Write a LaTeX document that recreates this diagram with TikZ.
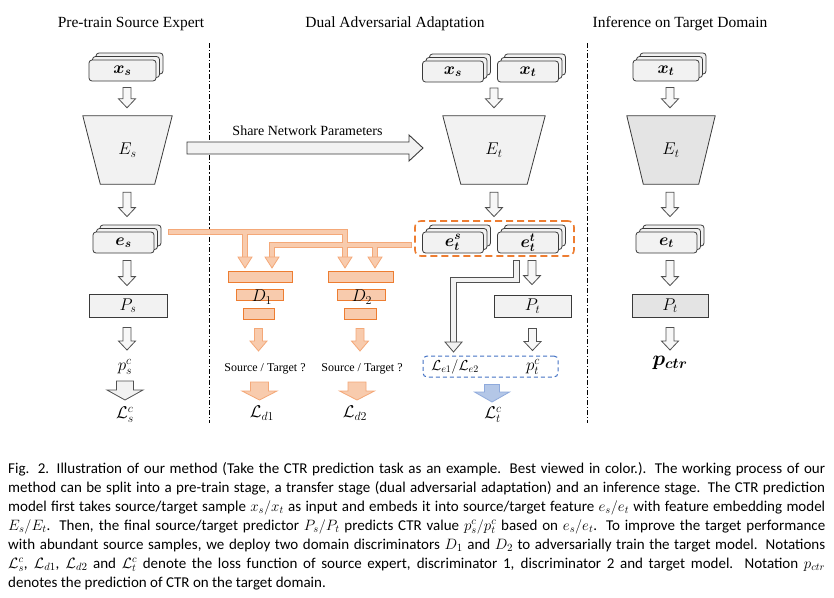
\documentclass[tikz,border=0pt]{standalone}
\usepackage{fontspec}
\usepackage{bm}
\setmainfont{Liberation Serif}
\newfontfamily\capfont{Carlito}
\DeclareFontShape{OML}{cmm}{m}{it}{<-8>cmmi7<8-11>cmmi10<11->cmmi12}{}
\DeclareFontShape{OML}{cmm}{b}{it}{<->cmmib10}{}
\DeclareFontShape{OMS}{cmsy}{m}{n}{<-8>cmsy7<8->cmsy10}{}
\DeclareFontShape{OMS}{cmsy}{b}{n}{<->cmbsy10}{}
\usetikzlibrary{calc,shadows,backgrounds}
\definecolor{boxfill}{HTML}{F2F2F2}
\definecolor{boxfillB}{HTML}{E4E4E4}
\definecolor{arrfill}{HTML}{F7F7F7}
\definecolor{boxdraw}{HTML}{3A3A3A}
\definecolor{arrdraw}{HTML}{505050}
\definecolor{orB}{HTML}{ED7D31}
\definecolor{orL}{HTML}{F4A878}
\definecolor{orF}{HTML}{F8CBAD}
\definecolor{blB}{HTML}{4472C4}
\definecolor{blF}{HTML}{B4C7E7}
\definecolor{blL}{HTML}{8FAADC}
\newcommand\mlab{\fontsize{17}{19}\selectfont}
\newcommand\vblock[6]{\draw[#1] let \p1=#2, \p2=#3 in (\x1-#4,\y1) -- (\x1+#4,\y1) -- (\x1+#4,\y2+#6) -- (\x1+#5,\y2+#6) -- (\x1,\y2) -- (\x1-#5,\y2+#6) -- (\x1-#4,\y2+#6) -- cycle;}
\newcommand\trapez[3]{\begin{scope}[on background layer]\draw[fill=#3, draw=boxdraw, line width=0.8pt] (#1.north west) -- (#1.north east) -- ([xshift=-#2]#1.south east) -- ([xshift=#2]#1.south west) -- cycle;\end{scope}}
\pgfdeclarelayer{paper}
\pgfsetlayers{paper,background,main}
\begin{document}
\begin{tikzpicture}[x=1pt,y=-1pt,
  stackbox/.style={draw=boxdraw, fill=boxfill, rounded corners=3pt, line width=0.8pt, minimum width=61pt, minimum height=21pt, inner sep=0pt, font=\mlab, double copy shadow={shadow xshift=3.5pt, shadow yshift=3.5pt}},
  trapnode/.style={minimum height=68pt, inner sep=0pt, font=\mlab},
  predbox/.style={draw=boxdraw, line width=0.8pt, minimum height=22pt, inner sep=0pt, font=\mlab},
  title/.style={font=\fontsize{15.5}{18}\selectfont, anchor=base},
  mtext/.style={font=\mlab, inner sep=0pt},
  garr/.style={draw=arrdraw, fill=arrfill, line width=0.8pt},
  garrw/.style={draw=arrdraw, fill=boxfill, line width=0.8pt},
  oarr/.style={draw=orL, fill=orF, line width=0.8pt},
  barr/.style={draw=blL, fill=blF, line width=0.8pt},
  dbar/.style={draw=orB, fill=orF, line width=0.8pt, minimum height=11pt, inner sep=0pt},
  divider/.style={line width=0.8pt, dash pattern=on 5pt off 2pt on 1.2pt off 2pt},
  srct/.style={font=\fontsize{12}{14}\selectfont, anchor=base}]
\begin{pgfonlayer}{paper}
\fill[white] (0,0) rectangle (834,597);
\end{pgfonlayer}
\useasboundingbox (0,0) rectangle (834,597);

% titles
\node[title] (t1) at (131,27) {Pre-train Source Expert};
\node[title] (t2) at (395,27) {Dual Adversarial Adaptation};
\node[title] (t3) at (680,27) {Inference on Target Domain};

% dividers
\coordinate (d1a) at (209,43); \coordinate (d1b) at (209,423);
\coordinate (d2a) at (587,43); \coordinate (d2b) at (587,423);
\draw[divider] (d1a) -- (d1b);
\draw[divider] (d2a) -- (d2b);

% ---------- left column
\node[stackbox, minimum width=67pt] (xs1) at (122.5,70.5) {$\bm{x_s}$};
\node[trapnode, minimum width=89pt] (Es) at (127.5,150) {$E_s$};
\trapez{Es}{17.5pt}{boxfill}
\node[stackbox] (es) at (123.5,242.5) {$\bm{e_s}$};
\node[predbox, fill=boxfill, minimum width=78pt, minimum height=23pt] (Ps) at (128,305.5) {$P_s$};
\node[mtext] (ps) at (125,367) {$p_s^c$};
\node[mtext] (Ls) at (125,415) {$\mathcal{L}_s^c$};
\vblock{garr}{([xshift=4.5pt,yshift=-6pt]xs1.south)}{([yshift=8pt]Es.north)}{4pt}{8.5pt}{9pt}
\vblock{garr}{([xshift=-0.5pt,yshift=-8pt]Es.south)}{([yshift=15pt]es.north)}{4pt}{8.5pt}{9pt}
\vblock{garr}{([xshift=3.5pt,yshift=-7pt]es.south)}{([yshift=8pt]Ps.north)}{4pt}{8.5pt}{9pt}
\vblock{garr}{([xshift=-1pt,yshift=-10pt]Ps.south)}{([yshift=17pt]ps.center)}{4pt}{8.5pt}{9pt}
\vblock{garrw}{([yshift=-14pt]ps.center)}{([yshift=15pt]Ls.center)}{8.5pt}{18pt}{10pt}

% share arrow
\coordinate (sh0) at (187,148);
\draw[draw=boxdraw, fill=boxfill, line width=0.9pt] (sh0) ++(0,-6) -- (409,142) -- (409,135) -- (423,148) -- (409,161) -- (409,154) -- (187,154) -- cycle;
\node[font=\fontsize{14}{16}\selectfont, anchor=base] (share) at (307.5,135) {Share Network Parameters};

% ---------- middle column
\node[stackbox] (xs2) at (453,71.5) {$\bm{x_s}$};
\node[stackbox] (xt2) at (528,71.5) {$\bm{x_t}$};
\coordinate (xmid) at ($(xs2.south)!0.5!(xt2.south)$);
\node[trapnode, minimum width=102pt] (Et2) at (494,150) {$E_t$};
\trapez{Et2}{18pt}{boxfill}
\node[draw=orB, dash pattern=on 7pt off 4pt, line width=1.6pt, rounded corners=6pt, minimum width=159pt, minimum height=35pt] (etbox) at (494.5,238.5) {};
\node[stackbox] (ets) at (453,242.5) {$\bm{e_t^s}$};
\node[stackbox] (ett) at (528,242.5) {$\bm{e_t^t}$};
\node[predbox, fill=boxfill, minimum width=77pt] (Pt2) at (532.5,306) {$P_t$};
\node[draw=blB, dash pattern=on 4pt off 3pt, line width=1pt, rounded corners=4pt, minimum width=135pt, minimum height=21pt] (lossbox) at (490.5,366.5) {};
\node[mtext, font=\fontsize{14.5}{16}\selectfont] (Le) at (455,367) {$\mathcal{L}_{e1}/\mathcal{L}_{e2}$};
\node[mtext] (pt) at (533,367) {$p_t^c$};
\node[mtext] (Lt) at (493,415) {$\mathcal{L}_t^c$};
\vblock{garr}{([xshift=3.5pt,yshift=-5.5pt]xmid)}{([yshift=8pt]Et2.north)}{4pt}{8.5pt}{9pt}
\vblock{garr}{([yshift=-8pt]Et2.south)}{([yshift=15pt]ett.north)}{4pt}{8.5pt}{9pt}
\vblock{garr}{([xshift=4pt,yshift=-7pt]ett.south)}{([yshift=10pt]Pt2.north)}{4pt}{8.5pt}{9pt}
\vblock{garr}{([yshift=-11pt]Pt2.south)}{([yshift=5pt]lossbox.north)}{4pt}{8.5pt}{9pt}
\vblock{barr}{([xshift=1.5pt,yshift=-7pt]lossbox.south)}{([yshift=13pt]Lt.center)}{7.5pt}{17.5pt}{10pt}

% grey connector e_t^t -> L_e
\coordinate (g0) at ([xshift=-11.5pt,yshift=-7pt]ett.south);
\coordinate (g1) at (516.5,280);
\coordinate (g2) at (453.5,280);
\coordinate (g3) at (453.5,343);
\draw[arrdraw, line width=6.5pt] (g0) -- (g1) -- (g2) -- (g3);
\draw[boxfill, line width=4.5pt, shorten <=1pt] (g0) -- (g1) -- (g2) -- (g3);
\draw[garr, fill=boxfill] (445,342) -- (462,342) -- (453.5,352) -- cycle;

% ---------- discriminators
\node[dbar, minimum width=64pt] (D1a) at (260,276.5) {};
\node[dbar, minimum width=47pt] (D1b) at (259.5,294.5) {};
\node[dbar, minimum width=31pt] (D1c) at (258.5,313.5) {};
\node[mtext] (D1l) at (262,297) {$D_1$};
\node[dbar, minimum width=65pt] (D2a) at (360.5,276.5) {};
\node[dbar, minimum width=48pt] (D2b) at (361,294.5) {};
\node[dbar, minimum width=32pt] (D2c) at (360,313.5) {};
\node[mtext] (D2l) at (362,297) {$D_2$};
\node[srct] (src1) at (265,371) {Source / Target ?};
\node[srct] (src2) at (362,371) {Source / Target ?};
\node[mtext] (Ld1) at (262,413) {$\mathcal{L}_{d1}$};
\node[mtext] (Ld2) at (355,413) {$\mathcal{L}_{d2}$};
\vblock{oarr}{([yshift=-9pt]D1c.south)}{([yshift=20pt]src1.base)}{4pt}{8.5pt}{10pt}
\vblock{oarr}{([yshift=-9pt]D2c.south)}{([yshift=20pt]src2.base)}{4pt}{8.5pt}{10pt}
\vblock{oarr}{([xshift=-5.5pt,yshift=-11pt]src1.base)}{([yshift=13pt]Ld1.center)}{9pt}{17.5pt}{9pt}
\vblock{oarr}{([xshift=-5pt,yshift=-11pt]src2.base)}{([yshift=13pt]Ld2.center)}{9pt}{17.5pt}{9pt}

% orange pipes
\coordinate (pa0) at ([xshift=14pt,yshift=10.5pt]es.east);
\coordinate (pb0) at ([xshift=-2pt,yshift=-6.5pt]etbox.west);
\coordinate (h1) at (245,257); \coordinate (h2) at (272,257);
\coordinate (h3) at (345,257); \coordinate (h4) at (375,257);
\draw[orL, line width=6.5pt] (pa0) -| (h3) (pa0 -| h1) -- (h1) (pb0) -| (h2) (pb0 -| h4) -- (h4);
\draw[orF, line width=4.5pt, shorten <=1pt] (pa0) -| (h3);
\draw[orF, line width=4.5pt, shorten <=1pt] (pb0) -| (h2);
\draw[orF, line width=4.5pt] (pa0 -| h1) -- (h1) (pb0 -| h4) -- (h4);
\foreach \h in {h1,h2,h3,h4}
  \draw[oarr] ([xshift=-7pt]\h) -- ([xshift=7pt]\h) -- ([yshift=-11pt]\h) -- cycle;

% ---------- right column
\node[stackbox, minimum width=66pt] (xt3) at (666,70.5) {$\bm{x_t}$};
\node[trapnode, minimum width=88pt] (Et3) at (671,150) {$E_t$};
\trapez{Et3}{16.5pt}{boxfillB}
\node[stackbox] (et3) at (666.5,242.5) {$\bm{e_t}$};
\node[predbox, fill=boxfillB, minimum width=76pt, minimum height=23pt] (Pt3) at (670,305.5) {$P_t$};
\node[mtext, font=\fontsize{21}{24}\selectfont] (pctr) at (670,363) {$\bm{p_{ctr}}$};
\vblock{garr}{([xshift=4pt,yshift=-6pt]xt3.south)}{([yshift=8pt]Et3.north)}{4pt}{8.5pt}{9pt}
\vblock{garr}{([xshift=-1pt,yshift=-8pt]Et3.south)}{([yshift=15pt]et3.north)}{4pt}{8.5pt}{9pt}
\vblock{garr}{([xshift=3.5pt,yshift=-7pt]et3.south)}{([yshift=8pt]Pt3.north)}{4pt}{8.5pt}{9pt}
\vblock{garr}{([yshift=-10pt]Pt3.south)}{([yshift=13pt]pctr.center)}{4pt}{8.5pt}{9pt}

% ---------- caption
\node[anchor=north west, inner sep=0pt, text width=817pt, align=justify, font=\capfont\fontsize{15}{19}\selectfont] (cap) at (8,462) {%
Fig. 2.\enskip Illustration of our method (Take the CTR prediction task as an example. Best viewed in color.). The working process of our\linebreak
method can be split into a pre-train stage, a transfer stage (dual adversarial adaptation) and an inference stage. The CTR prediction\linebreak
model first takes source/target sample $x_s/x_t$ as input and embeds it into source/target feature $e_s/e_t$ with feature embedding model\linebreak
$E_s/E_t$. Then, the final source/target predictor $P_s/P_t$ predicts CTR value $p_s^c/p_t^c$ based on $e_s/e_t$. To improve the target performance\linebreak
with abundant source samples, we deploy two domain discriminators $D_1$ and $D_2$ to adversarially train the target model. Notations\linebreak
$\mathcal{L}_s^c$, $\mathcal{L}_{d1}$, $\mathcal{L}_{d2}$ and $\mathcal{L}_t^c$ denote the loss function of source expert, discriminator 1, discriminator 2 and target model. Notation $p_{ctr}$\linebreak
denotes the prediction of CTR on the target domain.};
\end{tikzpicture}
\end{document}
